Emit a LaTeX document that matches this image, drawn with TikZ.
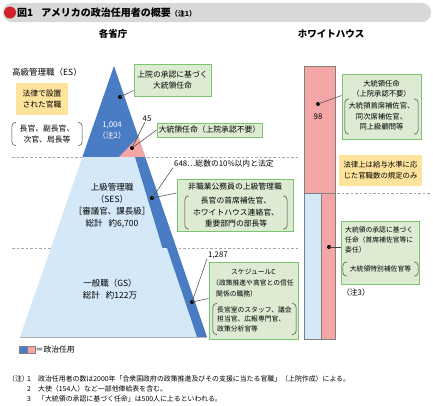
\documentclass[tikz,border=0pt]{standalone}
\usepackage{fontspec}
\setmainfont{Noto Sans CJK JP}
\definecolor{pblue}{HTML}{4A7CC4}
\definecolor{lblue}{HTML}{D4E8F7}
\definecolor{pinkc}{HTML}{F4A6A6}
\definecolor{boxgreen}{HTML}{7CC472}
\definecolor{fillgreen}{HTML}{DDEBD3}
\definecolor{yel}{HTML}{FDE39C}
\definecolor{titlegrey}{HTML}{D8D8D8}
\definecolor{redc}{HTML}{D2232A}
\definecolor{dgrey}{HTML}{444444}
\newcommand{\drawparens}[1]{%
  \draw[parenline] ([xshift=4pt]#1.north west) -- (#1.north west) -- (#1.south west) -- ([xshift=4pt]#1.south west);
  \draw[parenline] ([xshift=-4pt]#1.north east) -- (#1.north east) -- (#1.south east) -- ([xshift=-4pt]#1.south east);}
\begin{document}
\begin{tikzpicture}[x=1pt,y=-1pt,
  gbox/.style={draw=boxgreen, fill=fillgreen, line width=1pt, inner sep=0pt},
  ybox/.style={fill=yel, inner sep=0pt},
  txt/.style={inner sep=0pt, align=center},
  ltxt/.style={inner sep=0pt, align=left},
  pgroup/.style={inner sep=0pt, align=center},
  fA/.style={font=\fontsize{8.5}{12}\selectfont},
  fB/.style={font=\fontsize{7.8}{10.5}\selectfont},
  fC/.style={font=\fontsize{7.3}{10.5}\selectfont},
  fD/.style={font=\fontsize{6.8}{10}\selectfont},
  parenline/.style={rounded corners=4pt, line width=0.5pt, draw=dgrey},
  dashline/.style={draw=gray!70, dash pattern=on 2.5pt off 2pt, line width=0.6pt},
  conn/.style={draw=dgrey, line width=0.5pt},
  dot/.style={circle, fill=black, inner sep=0pt, minimum size=4pt}]
\useasboundingbox (0,0) rectangle (433,405);
\fill[white] (0,0) rectangle (433,405);

% title
\node (bar) [fill=titlegrey, rounded corners=9pt, minimum width=428pt, minimum height=19pt, inner sep=0pt] at (217,12.5) {};
\node (reddot) [circle, fill=redc, minimum size=12pt, inner sep=0pt] at (10,12.5) {};
\node (title) [anchor=west, inner sep=0pt, font=\fontsize{10}{12}\selectfont\bfseries] at (17,12.5) {図1\hspace{8pt}アメリカの政治任用者の概要{\fontsize{7}{8}\selectfont （注1）}};

% headers
\node (h1) [txt, font=\fontsize{9.5}{11}\selectfont\bfseries] at (113,34) {各省庁};
\node (h2) [txt, font=\fontsize{9.5}{11}\selectfont\bfseries] at (331,34) {ホワイトハウス};

% dashed separators
\draw[dashline] (12,157) -- (300,157);
\draw[dashline] (12,248) -- (300,248);
\draw[dashline] (337,193) -- (430,193);

% pyramid
\fill[pblue] (114,66) -- (82.4,157) -- (145.2,157) -- cycle;
\fill[pinkc] (119,157) -- (145.2,157) -- (138.4,137) -- cycle;
\fill[lblue] (82.4,157) -- (135,157) -- (162.4,248) -- (50.9,248) -- cycle;
\fill[pblue] (135,157) -- (145.2,157) -- (176.5,248) -- (162.4,248) -- cycle;
\fill[lblue] (50.9,248) -- (167,248) -- (197,337) -- (20,337) -- cycle;
\fill[pblue] (167,248) -- (176.5,248) -- (207,337) -- (197,337) -- cycle;
\draw[gray!60, line width=0.5pt] (20,337) -- (207,337);

% white house bar
\fill[pinkc] (304,66) rectangle (335,193);
\fill[lblue] (304,193) rectangle (321,339);
\fill[pinkc] (321,193) rectangle (335,339);
\draw[gray, line width=0.5pt] (304,66) rectangle (335,339);
\draw[gray, line width=0.5pt] (304,193) -- (335,193);
\draw[gray, line width=0.5pt] (321,193) -- (321,339);

% left labels
\node (es) [anchor=west, inner sep=0pt, fA] at (12,72) {高級管理職（ES）};
\node (lyel) [ybox, minimum width=52pt, minimum height=32pt] at (42,99) {};
\node (lyelt) [txt, fB] at (42,99) {法律で設置\\された官職};
\node (lpar) [pgroup, fB, minimum width=70pt, minimum height=23pt] at (47,134) {長官、副長官、\\次官、局長等};
\drawparens{lpar}

% pyramid texts
\node (n1004) [txt, fB, text=white] at (112,130.5) {1,004\\（注2）};
\node (ses) [txt, fA] at (112,206) {上級管理職\\（SES）\\［審議官、課長級］\\総計\hspace{6pt}約6,700};
\node (gs) [txt, fA] at (110,289) {一般職（GS）\\総計\hspace{6pt}約122万};

% boxes
\node (box1) [gbox, minimum width=77pt, minimum height=32pt] at (172.5,80) {};
\node (box1t) [txt, fB, font=\fontsize{7.8}{11.5}\selectfont] at (172.5,80) {上院の承認に基づく\\大統領任命};

\node (n45) [txt, fB] at (147,119) {45};
\node (box2) [gbox, minimum width=105pt, minimum height=14pt] at (209.5,130) {};
\node (box2t) [txt, fB] at (209.5,130) {大統領任命（上院承認不要）};

\node (n648) [anchor=west, inner sep=0pt, fB] at (174,164) {648…総数の10\%以内と法定};
\node (box3) [gbox, minimum width=116pt, minimum height=52pt] at (235,205) {};
\node (box3t) [txt, fB] at (235,186.5) {非職業公務員の上級管理職};
\node (box3p) [pgroup, minimum width=102pt, minimum height=33pt, font=\fontsize{7.8}{11.5}\selectfont] at (236,212.5) {長官の首席補佐官、\\ホワイトハウス連絡官、\\重要部門の部長等};
\drawparens{box3p}

\node (n1287) [anchor=west, inner sep=0pt, fB] at (208,255) {1,287};
\node (box4) [gbox, minimum width=89pt, minimum height=77pt] at (253.5,300.5) {};
\node (box4t) [txt, fD] at (253.5,272) {スケジュールC};
\node (box4u) [ltxt, anchor=north west, font=\fontsize{6.8}{11}\selectfont] at (212,279) {（政策推進や高官との信任\\\hspace{4pt}関係の職務）};
\node (box4p) [pgroup, minimum width=83pt, minimum height=31pt] at (254.5,319) {};
\node (box4pt) [ltxt, anchor=west, font=\fontsize{6.8}{9.5}\selectfont] at (217,319) {長官室のスタッフ、議会\\担当官、広報専門官、\\政策分析官等};
\drawparens{box4p}

% white house boxes
\node (n98) [txt, fB] at (318,117) {98};
\node (box5) [gbox, minimum width=79pt, minimum height=65pt] at (381.5,106.5) {};
\node (box5t) [txt, fC] at (381.5,89) {大統領任命\\（上院承認不要）};
\node (box5p) [pgroup, fC, minimum width=73pt, minimum height=35pt] at (381.5,116.5) {大統領首席補佐官、\\同次席補佐官、\\同上級顧問等};
\drawparens{box5p}

\node (ryel) [ybox, minimum width=83pt, minimum height=31pt] at (380.5,170.5) {};
\node (ryelt) [txt, font=\fontsize{7.4}{11}\selectfont] at (380.5,170.5) {法律上は給与水準に応\\じた官職数の規定のみ};

\node (box6) [gbox, minimum width=78pt, minimum height=63pt] at (380,252.5) {};
\node (box6t) [ltxt, anchor=north west, fD] at (345,227) {大統領の承認に基づく\\任命（首席補佐官等に\\委任）};
\node (box6p) [pgroup, fD, minimum width=75pt, minimum height=14pt] at (380.5,269) {大統領特別補佐官等};
\drawparens{box6p}
\node (note3) [txt, fB] at (356,293) {（注3）};

% dots and connectors
\node (d1) [dot] at (120,97) {};
\draw[conn] (d1.center) -- ([yshift=6pt]box1.south west);
\node (d2) [dot] at (132,148) {};
\draw[conn] (d2.center) -- ([xshift=-2pt]n45.south);
\draw[conn] (d2.center) -- (box2.west);
\node (d3) [dot] at (152,198) {};
\draw[conn] (d3.center) -- ([xshift=-1pt]n648.south west);
\draw[conn] (d3.center) -- ([yshift=12pt]box3.west);
\node (d4) [dot] at (192,302) {};
\draw[conn] (d4.center) -- ([xshift=-1pt]n1287.south west);
\draw[conn] (d4.center) -- ([yshift=2pt]box4.west);
\node (d5) [dot] at (318,104) {};
\draw[conn] (d5.center) -- ([yshift=11pt]box5.west);
\node (d6) [dot] at (329,247) {};
\draw[conn] (d6.center) -- (d6 -| box6.west);

% legend
\node (lg1) [fill=pblue, draw=gray, line width=0.3pt, minimum width=8pt, minimum height=7pt, inner sep=0pt] at (23,350) {};
\node (lg2) [fill=pinkc, draw=gray, line width=0.3pt, minimum width=8pt, minimum height=7pt, inner sep=0pt] at (31,350) {};
\node (lgt) [anchor=west, inner sep=0pt, fB] at (35.5,350) {＝政治任用};

% notes
\node (notes) [anchor=north west, inner sep=0pt, align=left, font=\fontsize{6.9}{10}\selectfont] at (8,375.5) {\makebox[19pt][l]{（注）}\makebox[11pt][l]{1}政治任用者の数は2000年「合衆国政府の政策推進及びその支援に当たる官職」（上院作成）による。\\
\hspace{19pt}\makebox[11pt][l]{2}大使（154人）など一部他俸給表を含む。\\
\hspace{19pt}\makebox[11pt][l]{3}「大統領の承認に基づく任命」は500人に上るといわれる。};
\end{tikzpicture}
\end{document}
